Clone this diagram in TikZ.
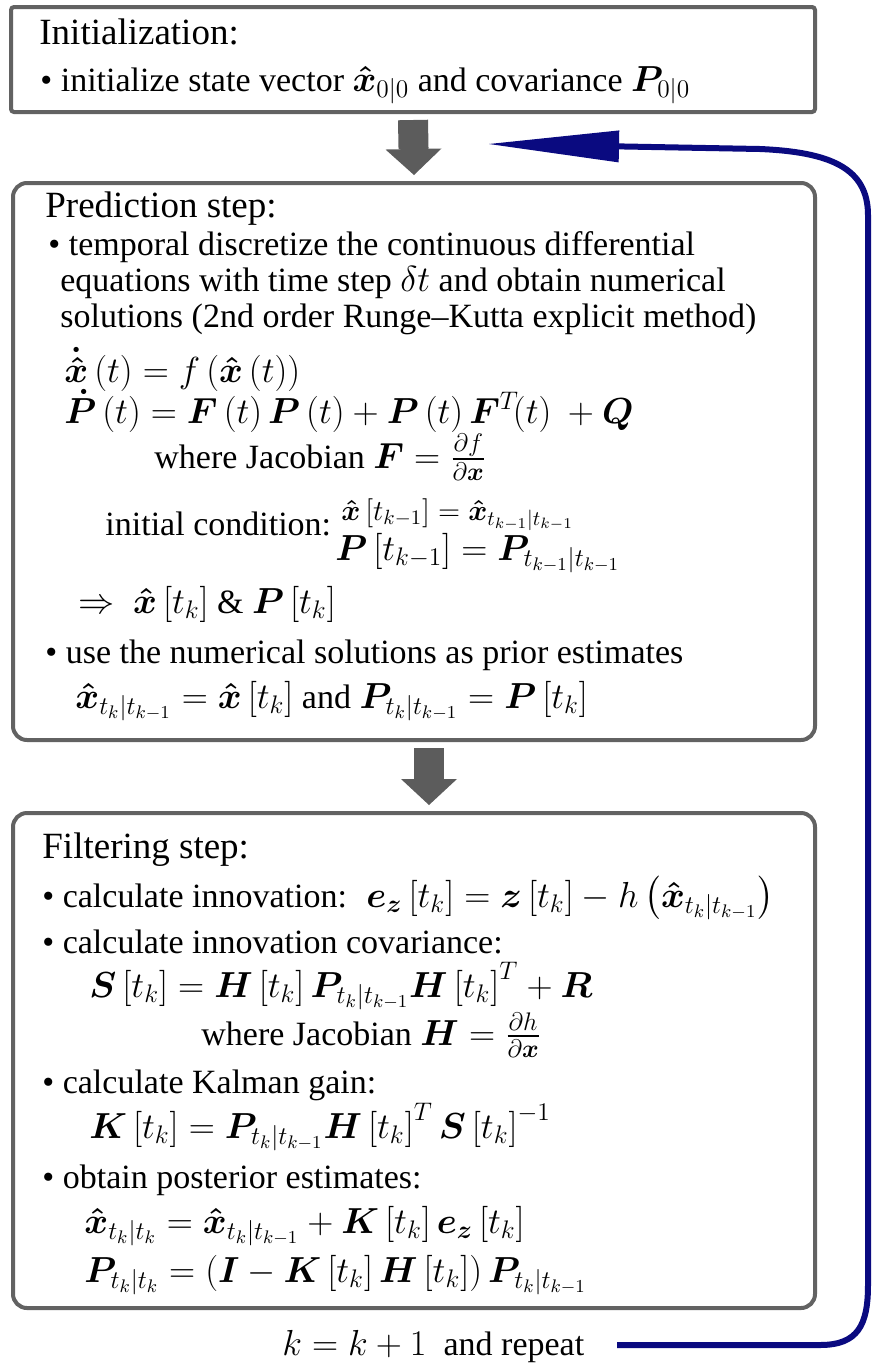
\RequirePackage{fix-cm}
\documentclass[tikz,border=0pt]{standalone}
\usepackage{amsmath,amssymb,bm}
\usepackage[no-math]{fontspec}
\setmainfont{Liberation Serif}
\usetikzlibrary{arrows.meta}
\DeclareMathSizes{17}{18.1}{12.7}{9.1}
\DeclareMathSizes{14}{14.5}{10.3}{7.5}
\definecolor{boxgray}{HTML}{626262}
\definecolor{arrowgray}{HTML}{5C5C5C}
\definecolor{loopblue}{HTML}{0A0A80}
\begin{document}
\begin{tikzpicture}[x=0.5pt,y=-0.5pt,
  box/.style={draw=boxgray, line width=2pt, outer sep=0pt, inner sep=0pt, anchor=north west, minimum width=401pt},
  title/.style={anchor=base west, inner sep=0pt, font=\fontsize{18.5}{22}\selectfont},
  body/.style={anchor=base west, inner sep=0pt, font=\fontsize{17}{20}\selectfont},
  small/.style={anchor=base west, inner sep=0pt, font=\fontsize{14}{16}\selectfont},
  bigarrow/.style={draw=arrowgray, line width=15pt, -{Triangle[width=28pt,length=13pt,line width=0pt]}},
  loop/.style={draw=loopblue, line width=3pt, -{Triangle[width=16pt,length=65pt,line width=0pt]}}]
\useasboundingbox (0,0) rectangle (876,1366);

% boxes
\node[box, rounded corners=1.5pt, minimum width=402pt, minimum height=52.5pt] (initbox) at (11,7) {};
\node[box, rounded corners=7pt, minimum height=278.5pt] (predbox) at (13,183) {};
\node[box, rounded corners=7pt, minimum height=247.5pt] (filtbox) at (13,813) {};

% block arrows
\draw[bigarrow] ([yshift=-4pt]initbox.south) -- ([yshift=4pt]predbox.north);
\draw[bigarrow] ([xshift=7.5pt,yshift=-4pt]predbox.south) -- ([xshift=7.5pt,yshift=4pt]filtbox.north);

% Initialization
\node[title] (t1) at (39,44) {Initialization:};
\node[body] (l1) at (40,91) {\textbullet\ initialize state vector $\bm{\hat{x}}_{0|0}$ and covariance $\bm{P}_{0|0}$};

% Prediction
\node[title] (t2) at (45,217) {Prediction step:};
\node[body] (p1) at (48,255) {\textbullet\ temporal discretize the continuous differential};
\node[body] (p2) at (60,291) {equations with time step $\delta t$ and obtain numerical};
\node[body] (p3) at (60,327) {solutions (2nd order Runge--Kutta explicit method)};
\node[body] (p4) at (64,382) {$\bm{\dot{\hat{x}}}\left(t\right) = f\left(\bm{\hat{x}}\left(t\right)\right)$};
\node[body] (p5) at (64,423) {$\bm{\dot{P}}\left(t\right) = \bm{F}\left(t\right)\bm{P}\left(t\right) + \bm{P}\left(t\right)\bm{F}^{T}\!(t)\ + \bm{Q}$};
\node[body] (p6) at (154,468) {where Jacobian $\bm{F} = \frac{\partial f}{\partial \bm{x}}$};
\node[body] (p7) at (105,535) {initial condition:};
\node[small] (p8) at (341,520) {$\bm{\hat{x}}\left[t_{k-1}\right] = \bm{\hat{x}}_{t_{k-1}|t_{k-1}}$};
\node[body] (p9) at (335,560) {$\bm{P}\left[t_{k-1}\right] = \bm{P}_{t_{k-1}|t_{k-1}}$};
\node[body] (p10) at (78,613) {$\Rightarrow\ \bm{\hat{x}}\left[t_k\right]$ \& $\bm{P}\left[t_k\right]$};
\node[body] (p11) at (45,663) {\textbullet\ use the numerical solutions as prior estimates};
\node[body] (p12) at (75,708) {$\bm{\hat{x}}_{t_k|t_{k-1}} = \bm{\hat{x}}\left[t_k\right]$ and $\bm{P}_{t_k|t_{k-1}} = \bm{P}\left[t_k\right]$};

% Filtering
\node[title] (t3) at (42,858) {Filtering step:};
\node[body] (f1) at (42,907) {\textbullet\ calculate innovation:};
\node[body] (f1m) at (366,907) {$\bm{e}_{\bm{z}}\left[t_k\right] = \bm{z}\left[t_k\right] - h\left(\bm{\hat{x}}_{t_k|t_{k-1}}\right)$};
\node[body] (f2) at (42,953) {\textbullet\ calculate innovation covariance:};
\node[body] (f3) at (89,997) {$\bm{S}\left[t_k\right] = \bm{H}\left[t_k\right]\bm{P}_{t_k|t_{k-1}}\bm{H}\left[t_k\right]^{T} + \bm{R}$};
\node[body] (f4) at (201,1045) {where Jacobian $\bm{H} = \frac{\partial h}{\partial \bm{x}}$};
\node[body] (f5) at (42,1093) {\textbullet\ calculate Kalman gain:};
\node[body] (f6) at (89,1138) {$\bm{K}\left[t_k\right] = \bm{P}_{t_k|t_{k-1}}\bm{H}\left[t_k\right]^{T}\bm{S}\left[t_k\right]^{-1}$};
\node[body] (f7) at (42,1188) {\textbullet\ obtain posterior estimates:};
\node[body] (f8) at (84,1233) {$\bm{\hat{x}}_{t_k|t_k} = \bm{\hat{x}}_{t_k|t_{k-1}} + \bm{K}\left[t_k\right]\bm{e}_{\bm{z}}\left[t_k\right]$};
\node[body] (f9) at (84,1282) {$\bm{P}_{t_k|t_k} = \left(\bm{I} - \bm{K}\left[t_k\right]\bm{H}\left[t_k\right]\right)\bm{P}_{t_k|t_{k-1}}$};

% repeat loop
\node[body] (rep) at (282,1355) {$k = k + 1$\ \ and repeat};
\coordinate (loopstart) at (617,1345);
\coordinate (looptip) at (489,144);
\draw[loop] (loopstart) -- (820,1345) .. controls (858,1345) and (868,1325) .. (868,1285)
  -- (868,215) .. controls (868,168) and (830,152) .. (760,149) -- (looptip);
\end{tikzpicture}
\end{document}
